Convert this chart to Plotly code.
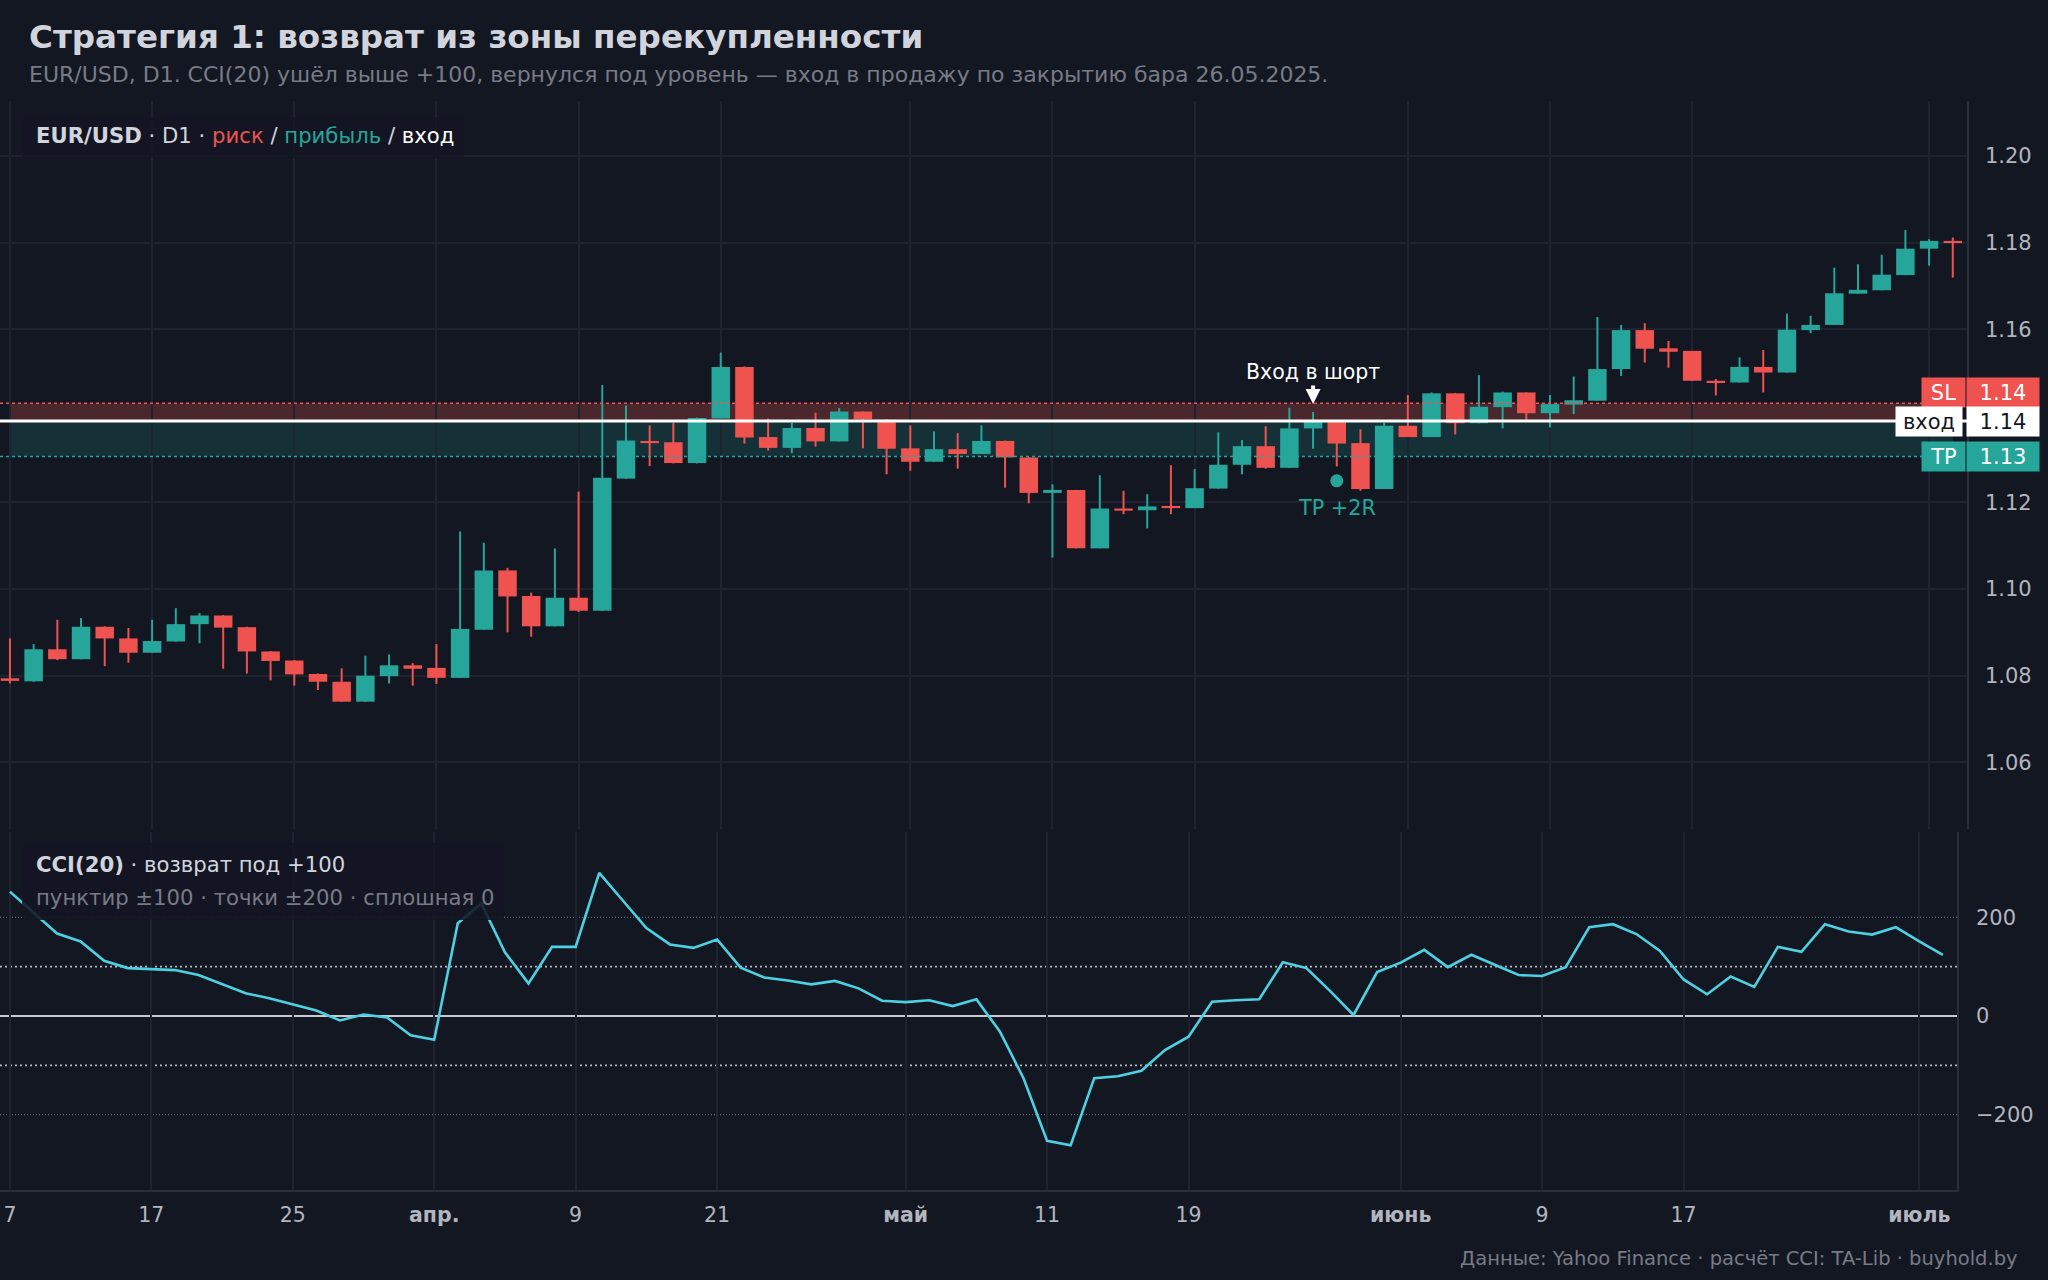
import plotly.graph_objects as go

# ---- data ----
dates = ['2025-03-07', '2025-03-10', '2025-03-11', '2025-03-12', '2025-03-13', '2025-03-14',
         '2025-03-17', '2025-03-18', '2025-03-19', '2025-03-20', '2025-03-21', '2025-03-24',
         '2025-03-25', '2025-03-26', '2025-03-27', '2025-03-28', '2025-03-30', '2025-03-31',
         '2025-04-01', '2025-04-02', '2025-04-03', '2025-04-06', '2025-04-07', '2025-04-08',
         '2025-04-09', '2025-04-10', '2025-04-13', '2025-04-14', '2025-04-15', '2025-04-16',
         '2025-04-21', '2025-04-22', '2025-04-23', '2025-04-24', '2025-04-27', '2025-04-28',
         '2025-04-29', '2025-04-30', '2025-05-01', '2025-05-04', '2025-05-05', '2025-05-06',
         '2025-05-07', '2025-05-08', '2025-05-11', '2025-05-12', '2025-05-13', '2025-05-14',
         '2025-05-15', '2025-05-18', '2025-05-19', '2025-05-20', '2025-05-21', '2025-05-22',
         '2025-05-25', '2025-05-26', '2025-05-27', '2025-05-28', '2025-05-29', '2025-06-01',
         '2025-06-02', '2025-06-03', '2025-06-04', '2025-06-05', '2025-06-08', '2025-06-09',
         '2025-06-10', '2025-06-11', '2025-06-12', '2025-06-15', '2025-06-16', '2025-06-17',
         '2025-06-18', '2025-06-19', '2025-06-22', '2025-06-23', '2025-06-24', '2025-06-25',
         '2025-06-26', '2025-06-29', '2025-06-30', '2025-07-01', '2025-07-02']

opens = [1.0794, 1.0787, 1.0861, 1.0838, 1.0913, 1.0886, 1.0853, 1.0879, 1.0919, 1.0939,
         1.0912, 1.0856, 1.0835, 1.0804, 1.0786, 1.0740, 1.0799, 1.0824, 1.0818, 1.0795,
         1.0906, 1.1043, 1.0984, 1.0914, 1.0980, 1.0950, 1.1255, 1.1342, 1.1339, 1.1291,
         1.1394, 1.1513, 1.1351, 1.1326, 1.1372, 1.1341, 1.1410, 1.1391, 1.1325, 1.1294,
         1.1323, 1.1312, 1.1342, 1.1304, 1.1222, 1.1229, 1.1094, 1.1186, 1.1182, 1.1192,
         1.1187, 1.1232, 1.1287, 1.1330, 1.1280, 1.1371, 1.1387, 1.1337, 1.1231, 1.1377,
         1.1351, 1.1452, 1.1383, 1.1420, 1.1454, 1.1406, 1.1426, 1.1435, 1.1508, 1.1598,
         1.1556, 1.1550, 1.1481, 1.1477, 1.1513, 1.1500, 1.1598, 1.1610, 1.1682, 1.1690,
         1.1725, 1.1786, 1.1804]
highs = [1.0886, 1.0873, 1.0929, 1.0933, 1.0914, 1.0910, 1.0929, 1.0956, 1.0945, 1.0940,
         1.0913, 1.0857, 1.0836, 1.0805, 1.0817, 1.0846, 1.0849, 1.0829, 1.0873, 1.1133,
         1.1107, 1.1049, 1.0992, 1.1094, 1.1225, 1.1471, 1.1424, 1.1378, 1.1384, 1.1396,
         1.1546, 1.1514, 1.1394, 1.1384, 1.1407, 1.1418, 1.1410, 1.1392, 1.1378, 1.1364,
         1.1360, 1.1378, 1.1343, 1.1305, 1.1242, 1.1229, 1.1263, 1.1227, 1.1219, 1.1286,
         1.1277, 1.1362, 1.1344, 1.1376, 1.1419, 1.1409, 1.1388, 1.1369, 1.1384, 1.1448,
         1.1454, 1.1453, 1.1494, 1.1456, 1.1454, 1.1448, 1.1491, 1.1628, 1.1610, 1.1614,
         1.1573, 1.1550, 1.1485, 1.1535, 1.1552, 1.1636, 1.1631, 1.1742, 1.1750, 1.1772,
         1.1829, 1.1808, 1.1812]
lows = [1.0782, 1.0786, 1.0836, 1.0838, 1.0822, 1.0830, 1.0853, 1.0879, 1.0875, 1.0816,
        1.0805, 1.0789, 1.0777, 1.0767, 1.0740, 1.0740, 1.0782, 1.0777, 1.0781, 1.0795,
        1.0906, 1.0900, 1.0890, 1.0914, 1.0947, 1.0950, 1.1255, 1.1284, 1.1290, 1.1290,
        1.1394, 1.1336, 1.1320, 1.1314, 1.1329, 1.1341, 1.1325, 1.1265, 1.1273, 1.1294,
        1.1278, 1.1312, 1.1234, 1.1198, 1.1073, 1.1094, 1.1094, 1.1173, 1.1140, 1.1173,
        1.1187, 1.1232, 1.1265, 1.1278, 1.1280, 1.1324, 1.1283, 1.1227, 1.1231, 1.1351,
        1.1351, 1.1357, 1.1383, 1.1371, 1.1391, 1.1373, 1.1404, 1.1435, 1.1492, 1.1523,
        1.1511, 1.1481, 1.1447, 1.1477, 1.1454, 1.1500, 1.1591, 1.1610, 1.1682, 1.1690,
        1.1725, 1.1747, 1.1719]
closes = [1.0788, 1.0861, 1.0838, 1.0913, 1.0886, 1.0853, 1.0880, 1.0919, 1.0939, 1.0911,
          1.0856, 1.0834, 1.0803, 1.0786, 1.0740, 1.0800, 1.0824, 1.0816, 1.0795, 1.0908,
          1.1043, 1.0983, 1.0914, 1.0980, 1.0950, 1.1257, 1.1343, 1.1337, 1.1291, 1.1395,
          1.1513, 1.1350, 1.1326, 1.1372, 1.1341, 1.1410, 1.1392, 1.1324, 1.1294, 1.1323,
          1.1312, 1.1342, 1.1304, 1.1222, 1.1229, 1.1094, 1.1186, 1.1181, 1.1191, 1.1187,
          1.1233, 1.1287, 1.1330, 1.1280, 1.1371, 1.1388, 1.1336, 1.1231, 1.1377, 1.1351,
          1.1452, 1.1383, 1.1421, 1.1454, 1.1406, 1.1427, 1.1436, 1.1508, 1.1598, 1.1555,
          1.1548, 1.1481, 1.1477, 1.1513, 1.1500, 1.1599, 1.1610, 1.1683, 1.1691, 1.1726,
          1.1786, 1.1804, 1.1799]

cci = [252, 210, 167, 151, 112, 97, 95, 93, 83, 65,
       46, 36, 24, 11, -9, 3, -3, -39, -48, 188,
       228, 129, 66, 140, 140, 290, 234, 178, 145, 138,
       155, 98, 78, 72, 64, 71, 56, 31, 28, 32,
       20, 34, -32, -126, -253, -262, -126, -122, -111, -69,
       -42, 29, 32, 34, 109, 97, 51, 2, 89, 108,
       134, 99, 124, 103, 83, 81, 99, 180, 186, 166,
       132, 74, 44, 80, 59, 140, 130, 186, 171, 165,
       180, 151, 124]

tick_dates = ['2025-03-07', '2025-03-17', '2025-03-25', '2025-04-01', '2025-04-09', '2025-04-21',
              '2025-05-01', '2025-05-11', '2025-05-19', '2025-06-01', '2025-06-09', '2025-06-17',
              '2025-07-01']
tick_text = ['7', '17', '25', '<b>апр.</b>', '9', '21', '<b>май</b>', '11', '19',
             '<b>июнь</b>', '9', '17', '<b>июль</b>']
# 1.14 sits under the price-scale labels, so it is not listed
price_ticks = [1.06, 1.08, 1.10, 1.12, 1.16, 1.18, 1.20]
cci_ticks = [-200, 0, 200]

entry_date = '2025-05-26'
tp_hit_date = '2025-05-27'
sl_price = 1.1429
tp_price = 1.1306

# ---- style ----
BG = '#131722'
GRID = '#1f2330'
AXIS = '#2a2e39'
TEXT = '#d1d4dc'
MUTED = '#787b86'
UP = '#26a69a'
DOWN = '#ef5350'
CCI_COLOR = '#4dd0e1'
FONT = 'DejaVu Sans'

W, H = 2048, 1280
TOP, BOTTOM = 101, 1190


def px(x):
    return x / W


def py(y):
    return (BOTTOM - y) / (BOTTOM - TOP)


ei = dates.index(entry_date)
ti = dates.index(tp_hit_date)
entry_price = closes[ei]

up = [c >= o for o, c in zip(opens, closes)]
body_base = [min(o, c) for o, c in zip(opens, closes)]
body_size = [max(abs(c - o), 0.0003) for o, c in zip(opens, closes)]
body_color = [UP if u else DOWN for u in up]

fig = go.Figure()

fig.add_trace(go.Bar(x=dates, y=body_size, base=body_base, width=0.78,
                     marker=dict(color=body_color, line=dict(width=0)),
                     hoverinfo='skip', xaxis='x', yaxis='y'))

for flag, col in [(True, UP), (False, DOWN)]:
    wx, wy = [], []
    for d, h, l, u in zip(dates, highs, lows, up):
        if u == flag:
            wx += [d, d, None]
            wy += [l, h, None]
    fig.add_trace(go.Scatter(x=wx, y=wy, mode='lines', line=dict(color=col, width=2),
                             hoverinfo='skip', xaxis='x', yaxis='y'))

# take-profit hit marker
fig.add_trace(go.Scatter(x=[dates[ti]], y=[lows[ti] - 0.0033], mode='markers',
                         marker=dict(color=UP, size=13), hoverinfo='skip',
                         xaxis='x', yaxis='y'))

fig.add_trace(go.Scatter(x=dates, y=cci, mode='lines', line=dict(color=CCI_COLOR, width=2.6),
                         hoverinfo='skip', xaxis='x2', yaxis='y2'))

shapes = [
    dict(type='rect', xref='x', yref='y', x0=dates[0], x1=dates[-1], y0=entry_price, y1=sl_price,
         fillcolor='rgba(239,83,80,0.25)', line=dict(width=0), layer='below'),
    dict(type='rect', xref='x', yref='y', x0=dates[0], x1=dates[-1], y0=tp_price, y1=entry_price,
         fillcolor='rgba(38,166,154,0.18)', line=dict(width=0), layer='below'),
    dict(type='line', xref='x domain', yref='y', x0=0, x1=1, y0=sl_price, y1=sl_price,
         line=dict(color=DOWN, width=1.6, dash='3px,3px'), layer='above'),
    dict(type='line', xref='x domain', yref='y', x0=0, x1=1, y0=tp_price, y1=tp_price,
         line=dict(color=UP, width=1.6, dash='3px,3px'), layer='above'),
    dict(type='line', xref='x domain', yref='y', x0=0, x1=1, y0=entry_price, y1=entry_price,
         line=dict(color='#ffffff', width=3), layer='above'),
]
for lvl in (100, -100):
    shapes.append(dict(type='line', xref='x2 domain', yref='y2', x0=0, x1=1, y0=lvl, y1=lvl,
                       line=dict(color='rgba(209,212,220,0.85)', width=1.6, dash='2px,3px'),
                       layer='below'))
for lvl in (200, -200):
    shapes.append(dict(type='line', xref='x2 domain', yref='y2', x0=0, x1=1, y0=lvl, y1=lvl,
                       line=dict(color='#787b86', width=1, dash='1px,2px'), layer='below'))
shapes.append(dict(type='line', xref='x2 domain', yref='y2', x0=0, x1=1, y0=0, y1=0,
                   line=dict(color='#c8cbd3', width=2), layer='below'))
# legend backdrops
shapes.append(dict(type='rect', xref='paper', yref='paper', x0=px(22), x1=px(464),
                   y0=py(158), y1=py(117), fillcolor='rgba(19,23,34,0.88)',
                   line=dict(width=0), layer='above'))
shapes.append(dict(type='rect', xref='paper', yref='paper', x0=px(22), x1=px(504),
                   y0=py(920), y1=py(843), fillcolor='rgba(19,23,34,0.88)',
                   line=dict(width=0), layer='above'))

ann = []
ann.append(dict(text='<b>Стратегия 1: возврат из зоны перекупленности</b>', x=px(27), y=py(37),
                xref='paper', yref='paper', xanchor='left', yanchor='middle', showarrow=False,
                font=dict(size=32.6, color=TEXT)))
ann.append(dict(text='EUR/USD, D1. CCI(20) ушёл выше +100, вернулся под уровень — вход в продажу '
                     'по закрытию бара 26.05.2025.',
                x=px(27), y=py(74), xref='paper', yref='paper', xanchor='left', yanchor='middle',
                showarrow=False, font=dict(size=22, color=MUTED)))
ann.append(dict(text='<b>EUR/USD</b> · D1 · <span style="color:#ef5350">риск</span> / '
                     '<span style="color:#26a69a">прибыль</span> / '
                     '<span style="color:#ffffff">вход</span>',
                x=px(34), y=py(135), xref='paper', yref='paper', xanchor='left', yanchor='middle',
                showarrow=False, font=dict(size=21.2, color=TEXT)))
ann.append(dict(text='<b>CCI(20)</b> · возврат под +100', x=px(34), y=py(864),
                xref='paper', yref='paper', xanchor='left', yanchor='middle', showarrow=False,
                font=dict(size=21.2, color=TEXT)))
ann.append(dict(text='пунктир ±100 · точки ±200 · сплошная 0', x=px(34), y=py(897),
                xref='paper', yref='paper', xanchor='left', yanchor='middle', showarrow=False,
                font=dict(size=21.2, color=MUTED)))
ann.append(dict(text='Данные: Yahoo Finance · расчёт CCI: TA-Lib · buyhold.by', x=px(2020),
                y=py(1258), xref='paper', yref='paper', xanchor='right', yanchor='middle',
                showarrow=False, font=dict(size=19.5, color=MUTED)))

# price-scale labels
for name, price, bg, fg, name_x, name_w, shift in [
        ('SL', sl_price, DOWN, '#ffffff', 1943, 38, 11),
        ('вход', entry_price, '#ffffff', BG, 1929, 61, 0),
        ('TP', tp_price, UP, '#ffffff', 1943, 38, 0)]:
    ann.append(dict(text=name, x=px(name_x), y=price, xref='paper', yref='y', yshift=shift,
                    xanchor='center', yanchor='middle', showarrow=False, bgcolor=bg,
                    width=name_w, height=24, borderpad=2.5, font=dict(size=21, color=fg)))
    ann.append(dict(text=f'{price:.2f}', x=px(2003), y=price, xref='paper', yref='y', yshift=shift,
                    xanchor='center', yanchor='middle', showarrow=False, bgcolor=bg,
                    width=67, height=24, borderpad=2.5, font=dict(size=21, color=fg)))

ann.append(dict(text='Вход в шорт', x=entry_date, y=highs[ei], xref='x', yref='y',
                showarrow=True, ax=0, ay=-40, arrowhead=2, arrowsize=0.75, arrowwidth=4,
                arrowcolor='#ffffff', standoff=8, font=dict(size=20.5, color='#ffffff')))
ann.append(dict(text='TP +2R', x=dates[ti], y=lows[ti] - 0.0033, xref='x', yref='y',
                yshift=-27, showarrow=False, font=dict(size=20.8, color=UP)))

fig.update_layout(
    width=W, height=H,
    paper_bgcolor=BG, plot_bgcolor=BG,
    margin=dict(l=0, r=0, t=TOP, b=H - BOTTOM),
    showlegend=False,
    font=dict(family=FONT, color=TEXT, size=19),
    xaxis=dict(domain=[0, px(1967)], anchor='y', type='category', range=[-0.42, 82.6],
               tickvals=tick_dates, showticklabels=False, showgrid=True, gridcolor=GRID,
               gridwidth=1.5, zeroline=False, fixedrange=True),
    yaxis=dict(domain=[py(829), 1], anchor='x', side='right', range=[1.0446, 1.2127],
               tickvals=price_ticks, tickformat='.2f', showgrid=True, gridcolor=GRID,
               gridwidth=1.5, zeroline=False, showline=True, linecolor=AXIS, linewidth=1.5,
               ticklabelstandoff=12, tickfont=dict(size=21, color='#b2b5be'), fixedrange=True),
    xaxis2=dict(domain=[0, px(1957)], anchor='y2', type='category', range=[-0.42, 82.6],
                tickvals=tick_dates, ticktext=tick_text, showgrid=True, gridcolor=GRID,
                gridwidth=1.5, zeroline=False, showline=True, linecolor=AXIS, linewidth=2,
                ticklabelstandoff=5, tickfont=dict(size=20.5, color='#b2b5be'), fixedrange=True),
    yaxis2=dict(domain=[0, py(832)], anchor='x2', side='right', range=[-352.6, 372.8],
                tickvals=cci_ticks, showgrid=False, zeroline=False, showline=True,
                linecolor=AXIS, linewidth=1.5, ticklabelstandoff=13,
                tickfont=dict(size=21, color='#b2b5be'), fixedrange=True),
    shapes=shapes,
    annotations=ann,
    dragmode=False,
)

fig.write_html('out.html', config={'displayModeBar': False},
               post_script="document.body.style.margin='0';document.body.style.overflow='hidden';")
